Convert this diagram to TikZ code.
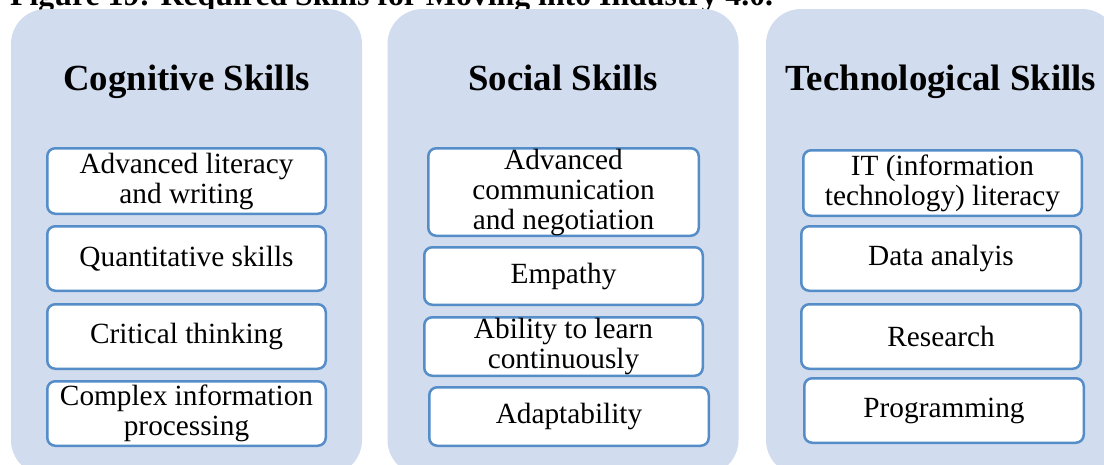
\documentclass[tikz,border=0pt]{standalone}
\usepackage{fontspec}
\setmainfont{Liberation Serif}
\definecolor{panelfill}{RGB}{209,220,238}
\definecolor{skillline}{RGB}{84,141,200}
\begin{document}
\begin{tikzpicture}[x=1pt,y=-1pt,
                    panel node/.style={rounded corners=35pt,fill=panelfill,minimum width=351pt,minimum height=466pt,inner sep=0pt},
                    head node/.style={anchor=base,font=\fontsize{36.8}{40}\selectfont\bfseries},
                    skill node/.style={draw=skillline,line width=2.5pt,rounded corners=8pt,fill=white,align=center,inner sep=0pt,font=\fontsize{29.3}{30}\selectfont}
                    ]
  \useasboundingbox (0,0) rectangle (1104,464);
  \clip (0,0) rectangle (1104,464);
  % caption, cut at the top edge
  \node[anchor=base west,inner sep=0pt,font=\fontsize{31.8}{34}\selectfont\bfseries] (title) at (10,5.5) {Figure 19: Required Skills for Moving into Industry 4.0.};
  % the three columns
  \node[panel node] (P1) at (186.5,242) {};
  \node[panel node] (P2) at (563,242) {};
  \node[panel node] (P3) at (941.5,242) {};
  \node[head node] (H1) at (186.5,90) {Cognitive Skills};
  \node[head node] (H2) at (563,90) {Social Skills};
  \node[head node] (H3) at (941,90) {Technological Skills};
  % cognitive
  \node[skill node,minimum width=278.5pt,minimum height=65.5pt] (c1) at (186.5,181) {Advanced literacy\\and writing};
  \node[skill node,minimum width=278.5pt,minimum height=64.5pt] (c2) at (186.5,258.5) {Quantitative skills};
  \node[skill node,minimum width=278.5pt,minimum height=64.5pt] (c3) at (186.5,336.5) {Critical thinking};
  \node[skill node,minimum width=278.5pt,minimum height=64.5pt] (c4) at (186.5,413.5) {Complex information\\processing};
  % social
  \node[skill node,minimum width=270.5pt,minimum height=87.5pt] (s1) at (563.5,192) {Advanced\\communication\\and negotiation};
  \node[skill node,minimum width=278.5pt,minimum height=57.5pt] (s2) at (563.5,276) {Empathy};
  \node[skill node,minimum width=278.5pt,minimum height=58.5pt] (s3) at (563.5,346.5) {Ability to learn\\continuously};
  \node[skill node,minimum width=279.5pt,minimum height=58.5pt] (s4) at (569,416.5) {Adaptability};
  % technological
  \node[skill node,minimum width=278.5pt,minimum height=65.5pt] (t1) at (942.5,183) {IT (information\\technology) literacy};
  \node[skill node,minimum width=279.5pt,minimum height=64.5pt] (t2) at (941,258.5) {Data analyis};
  \node[skill node,minimum width=279.5pt,minimum height=64.5pt] (t3) at (941,336.5) {Research};
  \node[skill node,minimum width=279.5pt,minimum height=64.5pt] (t4) at (944,410.5) {Programming};
\end{tikzpicture}
\end{document}
